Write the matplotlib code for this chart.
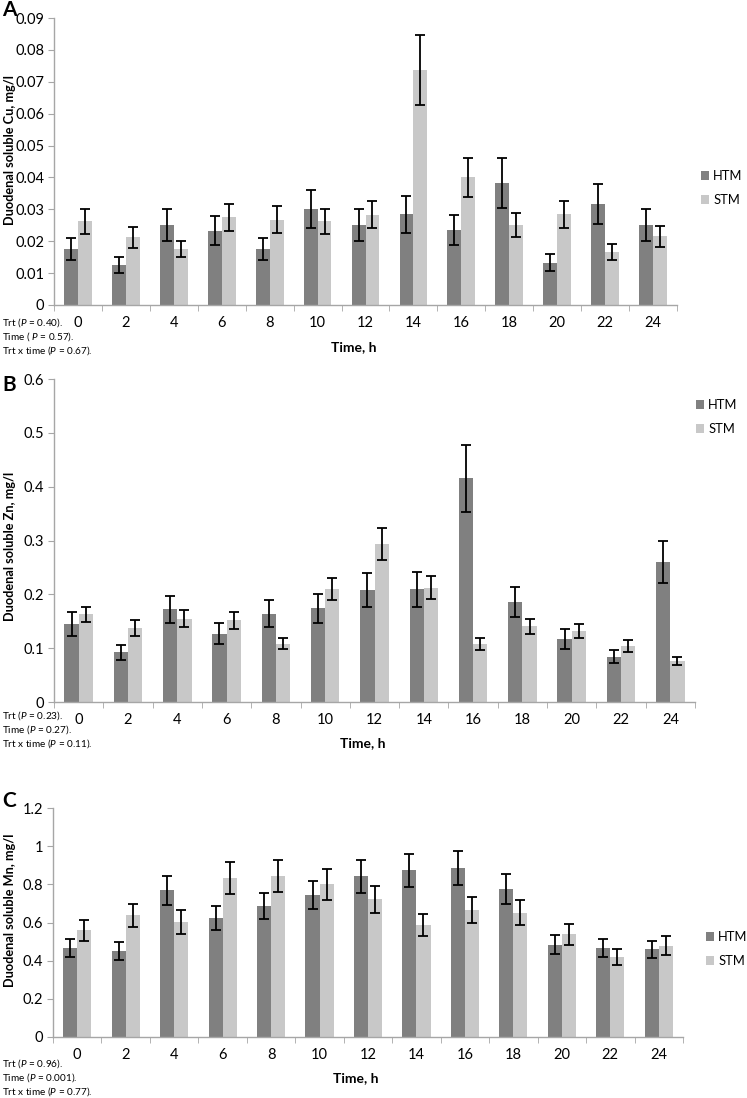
import numpy as np
import matplotlib
matplotlib.use("Agg")
import matplotlib.pyplot as plt

plt.rcParams['font.family'] = ['Lato', 'DejaVu Sans']
plt.rcParams['mathtext.fontset'] = 'custom'
plt.rcParams['mathtext.rm'] = 'Lato'
plt.rcParams['mathtext.it'] = 'Lato:italic'

# data
hours = [0, 2, 4, 6, 8, 10, 12, 14, 16, 18, 20, 22, 24]

cu_htm = [0.0175, 0.0125, 0.025, 0.0233, 0.0175, 0.030, 0.025, 0.0284, 0.0234, 0.0383, 0.0133, 0.0317, 0.0251]
cu_htm_se = [0.0035, 0.0025, 0.005, 0.0046, 0.0035, 0.006, 0.005, 0.0058, 0.0047, 0.0078, 0.0027, 0.0064, 0.005]
cu_stm = [0.0262, 0.0213, 0.0175, 0.0275, 0.0267, 0.0262, 0.0283, 0.0736, 0.0401, 0.0251, 0.0284, 0.0166, 0.0216]
cu_stm_se = [0.004, 0.0033, 0.0025, 0.0042, 0.0042, 0.004, 0.0043, 0.011, 0.0061, 0.0038, 0.0043, 0.0026, 0.0033]

zn_htm = [0.1445, 0.0924, 0.172, 0.1266, 0.164, 0.174, 0.2085, 0.209, 0.4156, 0.1855, 0.1172, 0.0844, 0.26]
zn_htm_se = [0.022, 0.014, 0.0255, 0.0195, 0.025, 0.0265, 0.0315, 0.032, 0.0625, 0.028, 0.0185, 0.0128, 0.039]
zn_stm = [0.163, 0.1377, 0.1545, 0.1514, 0.1086, 0.21, 0.293, 0.212, 0.1073, 0.1408, 0.1315, 0.1048, 0.0763]
zn_stm_se = [0.0143, 0.0143, 0.0155, 0.015, 0.011, 0.021, 0.0295, 0.0215, 0.0108, 0.014, 0.0135, 0.011, 0.0078]

mn_htm = [0.4664, 0.4507, 0.7686, 0.6236, 0.6865, 0.744, 0.842, 0.8734, 0.884, 0.774, 0.4838, 0.468, 0.459]
mn_htm_se = [0.0455, 0.0465, 0.0765, 0.0618, 0.068, 0.0743, 0.0858, 0.0865, 0.09, 0.078, 0.049, 0.0463, 0.0455]
mn_stm = [0.559, 0.6376, 0.604, 0.833, 0.8437, 0.80, 0.7214, 0.585, 0.6638, 0.6515, 0.538, 0.419, 0.4786]
mn_stm_se = [0.056, 0.0615, 0.062, 0.083, 0.0855, 0.080, 0.0715, 0.0578, 0.0675, 0.0655, 0.054, 0.041, 0.0497]

stats_cu = ["Trt ($\\mathit{P}$ = 0.40).", "Time ( $\\mathit{P}$ = 0.57).", "Trt x time ($\\mathit{P}$ = 0.67)."]
stats_zn = ["Trt ($\\mathit{P}$ = 0.23).", "Time ($\\mathit{P}$ = 0.27).", "Trt x time ($\\mathit{P}$ = 0.11)."]
stats_mn = ["Trt ($\\mathit{P}$ = 0.96).", "Time ($\\mathit{P}$ = 0.001).", "Trt x time ($\\mathit{P}$ = 0.77)."]

W, H = 747, 1098
fig = plt.figure(figsize=(W / 100, H / 100), dpi=100)

dark = '#808080'
light = '#c8c8c8'
axis_col = '#a6a6a6'


def fx(px):
    return px / W


def fy(py):
    return 1 - py / H


def panel(box, htm, htm_se, stm, stm_se, ymax, ystep, yfmt, ylabel, letter,
          stats, leg_xy, letter_y, stats_y, xlabel_y, ylabel_y):
    left, top, right, bottom = box
    ax = fig.add_axes([fx(left), fy(bottom), (right - left) / W, (bottom - top) / H])
    x = np.arange(len(hours))
    bw = 0.29
    ekw = dict(ecolor='black', elinewidth=1.3, capsize=3.5, capthick=1.3)
    ax.bar(x - bw / 2, htm, bw, color=dark, yerr=htm_se, error_kw=ekw, label='HTM')
    ax.bar(x + bw / 2, stm, bw, color=light, yerr=stm_se, error_kw=ekw, label='STM')
    ax.set_xlim(-0.5, len(hours) - 0.5)
    ax.set_ylim(0, ymax)
    ticks = np.arange(0, ymax + ystep / 2, ystep)
    ax.set_yticks(ticks)
    ax.set_yticklabels([yfmt(t) for t in ticks], fontsize=10.5)
    ax.set_xticks(x)
    ax.set_xticklabels([str(h) for h in hours], fontsize=10.5)
    ax.set_xticks(np.arange(-0.5, len(hours)), minor=True)
    ax.tick_params(axis='x', which='major', length=0, pad=8)
    ax.tick_params(axis='x', which='minor', length=4, color=axis_col, direction='out')
    ax.tick_params(axis='y', length=4, color=axis_col, direction='out', pad=3)
    for s in ['top', 'right']:
        ax.spines[s].set_visible(False)
    for s in ['left', 'bottom']:
        ax.spines[s].set_color(axis_col)
        ax.spines[s].set_linewidth(1.0)
    fig.text(fx(10), fy(ylabel_y), ylabel, rotation=90, fontsize=9.2,
             fontweight='bold', ha='center', va='center')
    fig.text(fx((left + right) / 2 - 12), fy(xlabel_y), 'Time, h',
             fontsize=10, fontweight='bold', ha='center', va='center')
    fig.text(fx(2), fy(letter_y), letter, fontsize=15, fontweight='bold', va='center')
    for i, s in enumerate(stats):
        fig.text(fx(2), fy(stats_y + i * 14), s, fontsize=7.2, va='center')
    fig.legend(handles=[ax.patches[0], ax.patches[len(hours)]],
               labels=['HTM', 'STM'], loc='center left',
               bbox_to_anchor=(fx(leg_xy[0]), fy(leg_xy[1])),
               frameon=False, fontsize=9.3, handlelength=0.65, handleheight=0.65,
               handletextpad=0.3, labelspacing=0.9, borderpad=0, borderaxespad=0)
    return ax


panel((54, 18, 677, 305), cu_htm, cu_htm_se, cu_stm, cu_stm_se, 0.09, 0.01,
      lambda t: '0' if t == 0 else f'{t:.2f}', 'Duodenal soluble Cu, mg/l', 'A',
      stats_cu, (701, 188), 10, 323, 347, 150)
panel((54, 379, 695, 702), zn_htm, zn_htm_se, zn_stm, zn_stm_se, 0.6, 0.1,
      lambda t: '0' if t == 0 else f'{t:.1f}', 'Duodenal soluble Zn, mg/l', 'B',
      stats_zn, (696, 417), 385, 716, 743, 546)
panel((53, 808, 683, 1037), mn_htm, mn_htm_se, mn_stm, mn_stm_se, 1.2, 0.2,
      lambda t: '0' if t == 0 else f'{t:g}', 'Duodenal soluble Mn, mg/l', 'C',
      stats_mn, (706, 949), 801, 1064, 1078, 910)

fig.savefig('out.png', dpi=100)
